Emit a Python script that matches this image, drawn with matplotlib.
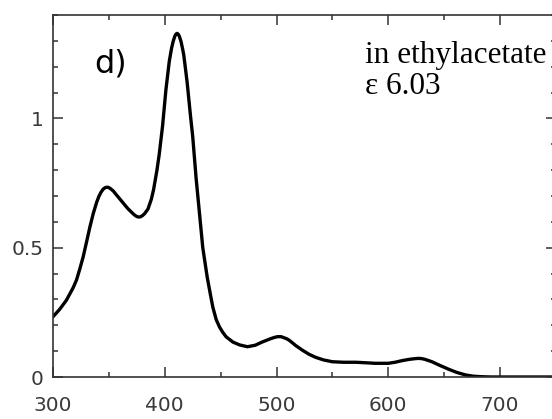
import matplotlib
matplotlib.use("Agg")
import matplotlib.pyplot as plt
from matplotlib.ticker import MultipleLocator

# Absorption spectrum in ethyl acetate
wavelength = [300, 306, 312, 318, 321, 324, 327, 330, 333, 336, 339, 341, 343, 345,
              347, 349, 351, 354, 357, 362, 367, 372, 374, 376, 378, 380, 382, 385,
              388, 390, 393, 395, 398, 401, 404, 406, 407.5, 409, 410, 411, 412, 413,
              414.5, 416, 417, 420, 423, 425, 428, 431, 434, 438, 441, 443, 446, 449,
              452, 455, 461, 467, 474, 481, 487, 494, 498, 501, 504, 506, 509, 511,
              514, 517, 523, 529, 535, 542, 550, 560, 571, 580, 588, 600, 606, 612,
              617, 620, 624, 627, 630, 633, 639, 646, 654, 661, 669, 676, 684, 692,
              700, 725, 750]
absorbance = [0.233, 0.262, 0.297, 0.345, 0.375, 0.418, 0.465, 0.522, 0.580, 0.632,
              0.675, 0.698, 0.715, 0.727, 0.733, 0.734, 0.730, 0.719, 0.703, 0.677,
              0.651, 0.630, 0.623, 0.619, 0.619, 0.624, 0.632, 0.650, 0.688, 0.725,
              0.800, 0.860, 0.970, 1.110, 1.220, 1.270, 1.298, 1.318, 1.326, 1.329,
              1.326, 1.318, 1.298, 1.268, 1.245, 1.140, 1.010, 0.930, 0.770, 0.635,
              0.500, 0.385, 0.315, 0.270, 0.222, 0.193, 0.172, 0.155, 0.135, 0.124,
              0.117, 0.123, 0.135, 0.147, 0.153, 0.156, 0.156, 0.153, 0.148, 0.143,
              0.133, 0.122, 0.104, 0.088, 0.076, 0.066, 0.059, 0.057, 0.057, 0.055,
              0.053, 0.053, 0.057, 0.063, 0.067, 0.069, 0.071, 0.072, 0.071, 0.068,
              0.059, 0.045, 0.030, 0.018, 0.008, 0.003, 0.001, 0.0, 0.0, 0.0, 0.0]

x_ticks = [300, 400, 500, 600, 700]
x_tick_labels = ["300", "400", "500", "600", "700"]
y_ticks = [0, 0.5, 1]
y_tick_labels = ["0", "0.5", "1"]

W, H = 552, 419
fig = plt.figure(figsize=(W / 100, H / 100), dpi=100)
ax = fig.add_axes([53 / W, 42 / H, 503 / W, 362 / H])

ax.plot(wavelength, absorbance, color="black", lw=2.4, solid_capstyle="round",
        solid_joinstyle="round")

ax.set_xlim(300, 750)
ax.set_ylim(0, 1.4)

ax.set_xticks(x_ticks)
ax.set_xticklabels(x_tick_labels)
ax.set_yticks(y_ticks)
ax.set_yticklabels(y_tick_labels)
ax.xaxis.set_minor_locator(MultipleLocator(50))
ax.yaxis.set_minor_locator(MultipleLocator(0.1))

label_color = "#3a3a3a"
ax.tick_params(which="both", direction="in", top=True, right=True,
               color="#333333", width=1.1)
ax.tick_params(which="major", length=7.2)
ax.tick_params(which="minor", length=3.6)
ax.tick_params(axis="x", which="major", pad=14, labelsize=14.5, labelcolor=label_color)
ax.tick_params(axis="y", which="major", pad=7, labelsize=14.5, labelcolor=label_color)
for lab in ax.get_xticklabels() + ax.get_yticklabels():
    lab.set_family("DejaVu Sans")

for sp in ax.spines.values():
    sp.set_color("#333333")
    sp.set_linewidth(1.2)

ax.text(0.083, 0.841, "d)", transform=ax.transAxes, fontsize=23,
        family="DejaVu Sans", va="baseline", ha="left", color="black")
ax.text(0.620, 0.867, "in ethylacetate", transform=ax.transAxes, fontsize=22.5,
        family="Liberation Serif", va="baseline", ha="left", color="black")
ax.text(0.620, 0.783, "\u03b5 6.03", transform=ax.transAxes, fontsize=22.5,
        family="Liberation Serif", va="baseline", ha="left", color="black")

fig.savefig("out.png", dpi=100)
